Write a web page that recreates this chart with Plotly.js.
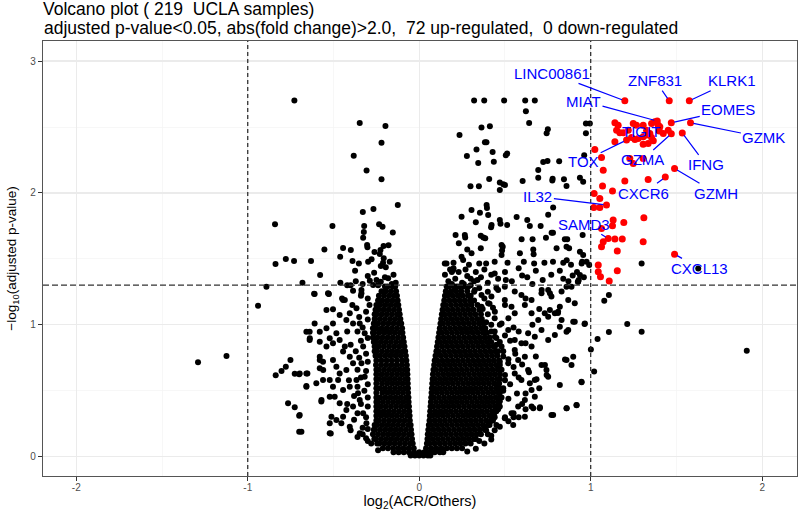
<!DOCTYPE html>
<html><head><meta charset="utf-8">
<script src="https://cdn.plot.ly/plotly-3.0.1.min.js"></script>
<style>html,body{margin:0;padding:0;background:#fff}</style>
</head><body><div id="chart" style="width:800px;height:514px"></div>
<script>
// ---------- data ----------
// dense core of the volcano: one y per row, x values per row
const coreRowY = [0.01,0.035,0.065,0.10,0.135,0.17,0.205,0.24,0.275,0.31,0.345,0.38,0.415,0.45,0.485,0.52,0.555,0.59,0.625,0.66,0.695,0.73,0.765,0.80,0.835,0.87,0.905,0.94,0.975,1.01,1.045,1.08,1.115,1.15,1.185,1.22,1.255,1.29];
const coreRowX = [
[-0.05,-0.025,0,0.025,0.05,0.065],
[-0.15,-0.12,-0.09,-0.06,-0.03,0,0.03,0.06,0.09,0.12,0.14],
[-0.212,-0.182,-0.152,-0.122,-0.092,-0.062,-0.032,0.04,0.07,0.1,0.13,0.16,0.19,0.22,0.25],
[-0.245,-0.233,-0.203,-0.173,-0.143,-0.113,-0.083,-0.053,-0.038,0.045,0.06,0.09,0.12,0.15,0.18,0.21,0.24,0.27,0.3],
[-0.262,-0.252,-0.222,-0.192,-0.162,-0.132,-0.102,-0.072,-0.042,0.048,0.078,0.108,0.138,0.168,0.198,0.228,0.258,0.288,0.318,0.33],
[-0.27,-0.24,-0.21,-0.18,-0.15,-0.12,-0.09,-0.06,-0.045,0.05,0.065,0.095,0.125,0.155,0.185,0.215,0.245,0.275,0.305,0.335,0.36],
[-0.265,-0.258,-0.228,-0.198,-0.168,-0.138,-0.108,-0.078,-0.048,0.053,0.083,0.113,0.143,0.173,0.203,0.233,0.263,0.293,0.323,0.353,0.383],
[-0.26,-0.245,-0.215,-0.185,-0.155,-0.125,-0.095,-0.065,-0.05,0.056,0.071,0.101,0.131,0.161,0.191,0.221,0.251,0.281,0.311,0.341,0.371,0.401,0.41],
[-0.25,-0.235,-0.205,-0.175,-0.145,-0.115,-0.085,-0.055,0.06,0.09,0.12,0.15,0.18,0.21,0.24,0.27,0.3,0.33,0.36,0.39,0.42,0.43],
[-0.25,-0.221,-0.191,-0.161,-0.131,-0.101,-0.071,-0.056,0.062,0.077,0.107,0.137,0.167,0.197,0.227,0.257,0.287,0.317,0.347,0.377,0.407,0.437],
[-0.25,-0.238,-0.208,-0.178,-0.148,-0.118,-0.088,-0.058,0.064,0.094,0.124,0.154,0.184,0.214,0.244,0.274,0.304,0.334,0.364,0.394,0.424,0.45],
[-0.25,-0.225,-0.195,-0.165,-0.135,-0.105,-0.075,-0.06,0.066,0.081,0.111,0.141,0.171,0.201,0.231,0.261,0.291,0.321,0.351,0.381,0.411,0.441,0.46],
[-0.25,-0.242,-0.212,-0.182,-0.152,-0.122,-0.092,-0.062,0.068,0.098,0.128,0.158,0.188,0.218,0.248,0.278,0.308,0.338,0.368,0.398,0.428,0.458,0.465],
[-0.25,-0.228,-0.198,-0.168,-0.138,-0.108,-0.078,-0.063,0.07,0.085,0.115,0.145,0.175,0.205,0.235,0.265,0.295,0.325,0.355,0.385,0.415,0.445,0.47],
[-0.25,-0.215,-0.185,-0.155,-0.125,-0.095,-0.065,0.072,0.102,0.132,0.162,0.192,0.222,0.252,0.282,0.312,0.342,0.372,0.402,0.432,0.462,0.47],
[-0.25,-0.231,-0.201,-0.171,-0.141,-0.111,-0.081,-0.066,0.074,0.089,0.119,0.149,0.179,0.209,0.239,0.269,0.299,0.329,0.359,0.389,0.419,0.449,0.47],
[-0.25,-0.217,-0.187,-0.157,-0.127,-0.097,-0.067,0.076,0.106,0.136,0.166,0.196,0.226,0.256,0.286,0.316,0.346,0.376,0.406,0.436,0.466],
[-0.25,-0.233,-0.203,-0.173,-0.143,-0.113,-0.083,-0.068,0.078,0.093,0.123,0.153,0.183,0.213,0.243,0.273,0.303,0.333,0.363,0.393,0.423,0.453,0.47],
[-0.25,-0.219,-0.189,-0.159,-0.129,-0.099,-0.069,0.08,0.11,0.14,0.17,0.2,0.23,0.26,0.29,0.32,0.35,0.38,0.41,0.44,0.47],
[-0.25,-0.235,-0.205,-0.175,-0.145,-0.115,-0.085,-0.07,0.083,0.098,0.128,0.158,0.188,0.218,0.248,0.278,0.308,0.338,0.368,0.398,0.428,0.458,0.47],
[-0.252,-0.222,-0.192,-0.162,-0.132,-0.102,-0.072,0.087,0.117,0.147,0.177,0.207,0.237,0.267,0.297,0.327,0.357,0.387,0.417,0.447,0.47],
[-0.25,-0.22,-0.19,-0.16,-0.13,-0.1,-0.075,0.09,0.105,0.135,0.165,0.195,0.225,0.255,0.285,0.315,0.345,0.375,0.405,0.435,0.465],
[-0.255,-0.228,-0.198,-0.168,-0.138,-0.108,-0.078,0.095,0.125,0.155,0.185,0.215,0.245,0.275,0.305,0.335,0.365,0.395,0.425,0.455],
[-0.26,-0.247,-0.217,-0.187,-0.157,-0.127,-0.097,-0.082,0.1,0.115,0.145,0.175,0.205,0.235,0.265,0.295,0.325,0.355,0.385,0.415,0.445],
[-0.26,-0.236,-0.206,-0.176,-0.146,-0.116,-0.086,0.104,0.134,0.164,0.194,0.224,0.254,0.284,0.314,0.344,0.374,0.404,0.434,0.44],
[-0.265,-0.255,-0.225,-0.195,-0.165,-0.135,-0.105,-0.09,0.108,0.123,0.153,0.183,0.213,0.243,0.273,0.303,0.333,0.363,0.393,0.42],
[-0.27,-0.244,-0.214,-0.184,-0.154,-0.124,-0.094,0.112,0.142,0.172,0.202,0.232,0.262,0.292,0.322,0.352,0.382,0.41],
[-0.27,-0.263,-0.233,-0.203,-0.173,-0.143,-0.113,-0.098,0.116,0.131,0.161,0.191,0.221,0.251,0.281,0.311,0.341,0.371,0.395],
[-0.27,-0.25,-0.22,-0.19,-0.16,-0.13,-0.1,0.12,0.15,0.18,0.21,0.24,0.27,0.3,0.33,0.36,0.385],
[-0.265,-0.24,-0.21,-0.18,-0.15,-0.12,-0.105,0.124,0.139,0.169,0.199,0.229,0.259,0.289,0.319,0.349,0.375],
[-0.26,-0.23,-0.2,-0.17,-0.14,-0.11,0.128,0.158,0.188,0.218,0.248,0.278,0.308,0.338,0.365],
[-0.26,-0.249,-0.219,-0.189,-0.159,-0.129,-0.114,0.132,0.147,0.177,0.207,0.237,0.267,0.297,0.327,0.36],
[-0.255,-0.238,-0.208,-0.178,-0.148,-0.118,0.136,0.166,0.196,0.226,0.256,0.286,0.316,0.35],
[-0.25,-0.227,-0.197,-0.167,-0.137,-0.122,0.14,0.155,0.185,0.215,0.245,0.275,0.305,0.34],
[-0.24,-0.216,-0.186,-0.156,-0.126,0.146,0.176,0.206,0.236,0.266,0.296,0.32],
[-0.235,-0.205,-0.175,-0.145,-0.13,0.15,0.165,0.195,0.225,0.255,0.285,0.3],
[-0.22,-0.195,-0.165,-0.135,0.155,0.185,0.215,0.245,0.28],
[-0.2,-0.185,-0.155,-0.14,0.16,0.175,0.205,0.235,0.26]
];
// scattered non-significant genes [log2FC, -log10 adj p]
const otherPts = [
[-1.29,0.716],[-1.124,0.763],[-0.94,1.145],[-0.891,1.289],[-0.837,0.617],[-0.803,0.65],[-0.778,0.682],[-0.751,0.733],[-0.726,0.63],[-0.70,0.625],[-0.765,0.405],[-0.726,0.375],[-0.70,0.311],[-0.70,0.19],[-0.652,0.632],[-0.658,0.536],
[1.297,1.466],[1.627,1.428],[1.106,1.226],[1.079,1.183],[0.964,1.006],[1.213,1.006],[1.106,0.945],[1.297,0.948],[1.04,0.892],[1.001,0.814],[1.02,0.647],[0.947,0.564],[1.91,0.804],[0.956,1.53],[0.976,1.478],[0.947,1.466],[0.991,1.453],[0.937,1.378],
[-0.728,2.70],[-0.347,2.53],[-0.197,2.507],[-0.22,2.38],[-0.382,2.282],[-0.307,2.171],[-0.22,2.103],[-0.125,1.908],[-0.267,1.878],[-0.329,1.855],[-0.506,1.749],[-0.321,1.749],[-0.234,1.762],[-0.214,1.744],[-0.323,1.704],[-0.154,1.701],[-0.327,1.66],[-0.304,1.605],[-0.302,1.588],[-0.553,1.572],[-0.444,1.582],[-0.399,1.567],[-0.208,1.597],[-0.179,1.603],[-0.261,1.552],[-0.226,1.567],[-0.23,1.537],[-0.778,1.499],[-0.73,1.484],[-0.631,1.484],[-0.461,1.516],[-0.389,1.484],[-0.352,1.466],[-0.298,1.478],[-0.278,1.497],[-0.207,1.504],[-0.211,1.471],[-0.172,1.478],[-0.224,1.446],[-0.195,1.436],[-0.374,1.41],[-0.263,1.395],[-0.578,1.378],[-0.288,1.334],[-0.249,1.34],[-0.224,1.327],[-0.181,1.353],[-0.137,1.319],[-0.681,1.319],[-0.269,1.302],[-0.24,1.30],
[-0.841,1.762],[-0.838,1.461],[-0.613,1.236],[-0.529,1.236],
[0.32,2.70],[0.379,2.70],[0.495,2.70],[0.618,2.70],[0.674,2.70],[0.622,2.619],[0.641,2.53],[0.363,2.497],[0.412,2.505],[0.235,2.439],[0.75,2.482],[0.743,2.452],[0.972,2.527],[0.995,2.527],[0.972,2.452],[0.383,2.384],[0.392,2.384],[0.334,2.33],[0.428,2.31],[0.513,2.30],[0.505,2.285],[0.278,2.28],[0.344,2.227],[0.435,2.237],[0.723,2.234],[0.748,2.242],[0.816,2.24],[0.962,2.285],[0.694,2.174],[0.408,2.105],[0.299,2.05],[0.348,2.05],[0.47,2.08],[0.49,2.065],[0.50,2.06],[0.47,2.022],[0.603,2.09],[0.694,2.115],[0.778,2.108],[0.776,2.095],[0.844,2.103],[0.859,2.052],[0.937,2.115],[0.956,2.085],
[0.393,1.908],[0.395,1.885],[0.402,1.833],[0.305,1.871],[0.354,1.85],[0.247,1.82],[0.33,1.777],[0.422,1.757],[0.419,1.74],[0.47,1.795],[0.474,1.766],[0.513,1.757],[0.568,1.817],[0.63,1.795],[0.645,1.749],[0.708,1.749],[0.752,1.835],[0.781,1.89],[0.772,1.698],[0.78,1.698],[0.953,1.681],[0.212,1.681],[0.266,1.681],[0.268,1.663],[0.359,1.676],[0.374,1.663],[0.385,1.656],[0.231,1.618],[0.28,1.572],[0.359,1.58],[0.48,1.605],[0.487,1.593],[0.483,1.563],[0.597,1.648],[0.661,1.648],[0.665,1.572],[0.739,1.66],[0.849,1.648],[0.863,1.648],[0.801,1.58],[0.859,1.592],[0.874,1.58],[0.937,1.554],[0.587,1.542],[0.667,1.535],[0.48,1.529],
[0.159,1.466],[0.20,1.47],[0.20,1.43],[0.19,1.40],[0.256,1.491],[0.29,1.455],[0.35,1.466],[0.39,1.466],[0.44,1.478],[0.515,1.47],[0.61,1.478],[0.67,1.466],[0.73,1.47],[0.78,1.478],[0.84,1.47],[0.86,1.49],[0.885,1.455],[0.95,1.478],[0.44,1.39],[0.505,1.34],[0.60,1.375],[0.68,1.41],[0.82,1.41],[0.84,1.35],[0.895,1.375],[0.93,1.34],[0.30,1.35],[0.34,1.34],
[0.149,1.466],[0.247,1.516],[0.305,1.542],[0.198,1.415],
[0.17,1.33],[0.21,1.35],[0.25,1.32],[0.28,1.37],[0.32,1.33],[0.36,1.36],[0.40,1.32],[0.23,1.40],[0.27,1.42],[0.33,1.40],[0.15,1.38],[0.18,1.42],[0.38,1.42],[0.42,1.38],[0.46,1.35],[0.50,1.40],[0.54,1.33],[0.58,1.43],[0.63,1.36],[0.66,1.31],[0.72,1.34],[0.77,1.38],[0.87,1.33],[0.92,1.40],[0.96,1.36],
[-0.16,1.31],[-0.20,1.36],[-0.15,1.38],[-0.30,1.37],[-0.33,1.31],[-0.37,1.33],[-0.42,1.30],[-0.46,1.32],
[-0.61,1.234],[-0.532,1.239],[-0.386,1.259],[-0.337,1.264],[-0.337,1.239],[-0.444,1.188],[-0.541,1.113],[-0.503,1.118],[-0.464,1.075],[-0.405,1.087],[-0.366,1.125],[-0.425,1.037],[-0.386,1.011],[-0.61,1.011],[-0.658,0.948],[-0.639,0.948],[-0.58,0.948],[-0.541,0.974],[-0.503,1.011],[-0.483,0.936],[-0.639,0.885],[-0.58,0.872],[-0.522,0.898],[-0.503,0.86],[-0.464,0.885],[-0.434,0.835],[-0.541,0.835],[-0.58,0.759],[-0.561,0.721],[-0.503,0.733],[-0.483,0.683],[-0.444,0.797],[-0.405,0.759],[-0.386,0.708],[-0.425,0.658],[-0.464,0.632],[-0.58,0.67],[-0.561,0.582],[-0.60,0.557],[-0.658,0.531],[-0.522,0.582],[-0.503,0.531],[-0.473,0.582],[-0.444,0.506],[-0.405,0.531],[-0.366,0.582],[-0.697,0.632],[-0.658,0.632],[-0.522,0.455],[-0.571,0.418],[-0.493,0.455],[-0.464,0.405],[-0.425,0.354],[-0.386,0.38],[-0.347,0.43],[-0.444,0.304],[-0.483,0.279],[-0.512,0.304],[-0.522,0.178],[-0.454,0.253],[-0.405,0.228],[-0.347,0.178],[-0.308,0.253],[-0.697,0.316],[-0.687,0.19],[-0.327,0.329],[-0.357,0.481],[-0.318,0.607],[-0.337,0.708],[-0.327,0.835],[-0.318,0.936],[-0.347,1.011],
[-0.30,1.20],[-0.29,1.15],[-0.31,1.10],[-0.35,1.06],[-0.30,1.04],[-0.33,0.98],[-0.36,0.95],[-0.30,0.90],[-0.34,0.88],[-0.37,0.80],[-0.31,0.78],[-0.35,0.75],[-0.30,0.72],[-0.36,0.66],[-0.31,0.65],[-0.34,0.60],[-0.30,0.55],[-0.36,0.53],[-0.32,0.50],[-0.38,0.46],[-0.30,0.45],[-0.34,0.40],[-0.30,0.38],[-0.36,0.33],[-0.31,0.30],[-0.38,0.28],[-0.33,0.22],[-0.40,0.20],[-0.36,0.15],[-0.30,0.12],[-0.42,0.40],[-0.41,0.58],[-0.40,0.85],[-0.42,0.95],[-0.39,1.15],[-0.45,1.20],[-0.40,1.30],[-0.34,1.22],
[0.178,1.239],[0.207,1.264],[0.246,1.226],[0.285,1.289],[0.324,1.264],[0.363,1.226],[0.421,1.214],[0.46,1.264],[0.499,1.289],[0.557,1.252],[0.596,1.226],[0.655,1.188],[0.713,1.239],[0.752,1.264],[0.771,1.214],[0.83,1.252],[0.888,1.289],[0.927,1.327],[0.869,1.188],[0.907,1.163],
[0.363,1.138],[0.402,1.163],[0.441,1.10],[0.499,1.188],[0.538,1.138],[0.557,1.087],[0.616,1.15],[0.655,1.087],[0.694,1.037],[0.732,1.087],[0.752,1.062],[0.791,1.087],[0.81,1.10],[0.83,1.037],[0.869,0.961],[0.907,1.024],[0.966,1.011],[0.713,0.961],[0.674,0.91],[0.635,0.936],[0.596,0.86],[0.557,0.885],[0.519,0.961],[0.48,1.011],[0.441,0.91],[0.752,0.885],[0.791,0.923],[0.655,0.835],[0.557,0.809],[0.577,0.733],[0.616,0.759],[0.48,0.835],
[0.46,0.683],[0.519,0.708],[0.557,0.632],[0.596,0.582],[0.635,0.658],[0.655,0.506],[0.674,0.455],[0.616,0.43],[0.577,0.38],[0.538,0.329],[0.655,0.38],[0.703,0.367],[0.713,0.696],[0.742,0.658],[0.752,0.607],[0.859,0.733],[0.888,0.696],[0.82,0.544],[0.946,0.569],[0.771,0.316],[0.859,0.367],[0.917,0.392],[0.548,0.241],[0.47,0.228],[0.499,0.291],[0.421,0.279],[0.674,0.582],[0.645,0.557],
[0.50,1.15],[0.52,1.05],[0.47,1.00],[0.55,0.98],[0.50,0.92],[0.58,0.95],[0.53,0.88],[0.49,0.80],[0.56,0.78],[0.52,0.74],[0.60,0.70],[0.55,0.68],[0.50,0.62],[0.58,0.60],[0.53,0.55],[0.49,0.50],[0.57,0.48],[0.52,0.44],[0.60,0.40],[0.47,0.38],[0.55,0.33],[0.50,0.30],[0.45,0.24],[0.62,0.86],[0.66,1.00],[0.70,1.12],[0.62,1.20],[0.45,1.28],[0.40,1.25],[0.68,0.76],[0.64,0.64],[0.70,0.52],[0.62,0.48],[0.58,0.30],[0.62,0.36],[0.44,1.05],[0.42,0.95],[0.45,0.85],[0.47,0.72],[0.46,0.55],[0.43,0.32],[0.39,0.20],[0.42,0.16],[0.35,0.12],
[0.38,1.20],[0.41,1.16],[0.37,1.12],[0.40,1.08],[0.43,1.13],[0.39,1.02],[0.42,1.00],[0.44,0.95],[0.45,0.90],[0.47,0.87],[0.46,0.80],[0.49,0.76],[0.48,0.66],[0.50,0.58],[0.49,0.52],[0.48,0.45],[0.47,0.42],[0.46,0.36],[0.44,0.30],[0.41,0.26],[0.38,0.23],[0.32,1.25],[0.35,1.28],[0.30,1.30],[0.26,1.31],[0.22,1.29],[0.19,1.31],
[0.898,0.758],[0.85,0.738],[0.918,0.39],[0.86,0.367],[0.781,0.316],[0.704,0.375],[0.665,0.367],[0.616,0.303],[0.733,0.695],[0.743,0.62],[0.684,0.587],[0.809,1.089],[0.82,1.137],[0.762,1.112],[0.898,1.024],[0.859,0.948],[0.82,0.986],[0.714,1.264],[0.762,1.239],[0.859,1.289],[0.925,1.327],
[-0.638,0.898],[-0.527,1.234],[-0.522,0.253],[-0.516,0.177],[-0.57,0.43],[-0.56,0.657],[-0.58,0.733],[-0.434,1.188],
[0.38,0.10],[0.42,0.13],[0.33,0.06],[0.28,0.04],[0.40,0.17],[0.44,0.20],[0.52,0.27],[0.55,0.30],[-0.28,0.10],[-0.24,0.05],[-0.31,0.14],[-0.30,0.21],[-0.33,0.17]
];
// labelled up-regulated genes
const labelGenes = ['LINC00861','ZNF831','KLRK1','MIAT','EOMES','GZMK','TIGIT','TOX','GZMA','IFNG','CXCR6','GZMH','IL32','SAMD3','CXCL13'];
const labelGeneXY = [[1.199,2.699],[1.458,2.699],[1.575,2.699],[1.388,2.545],[1.47,2.532],[1.582,2.532],[1.326,2.439],[1.209,2.401],[1.47,2.449],[1.534,2.454],[1.435,2.12],[1.489,2.186],[1.092,1.908],[1.102,1.655],[1.489,1.536]];
// other up-regulated genes (red, unlabelled)
const upPts = [
[1.141,2.532],[1.16,2.514],[1.248,2.527],[1.267,2.514],[1.306,2.514],[1.355,2.527],[1.374,2.54],[1.394,2.514],[1.403,2.502],[1.452,2.476],[1.151,2.476],[1.17,2.456],[1.141,2.388],[1.238,2.421],[1.258,2.406],[1.277,2.413],[1.306,2.426],[1.345,2.451],[1.355,2.421],[1.365,2.396],[1.335,2.375],[1.306,2.37],[1.423,2.451],[1.326,2.476],[1.219,2.476],[1.19,2.456],[1.40,2.47],
[1.024,2.33],[1.063,2.269],[1.228,2.262],[1.248,2.224],[1.306,2.262],[1.073,2.173],[1.199,2.09],[1.335,2.102],[1.069,2.052],[1.127,2.014],[1.02,1.996],[1.053,1.958],[1.018,1.89],[1.053,1.89],[1.31,1.812],[1.193,1.776],[1.131,1.794],[1.127,1.751],[1.063,1.731],[1.073,1.63],[1.063,1.592],[1.141,1.65],[1.184,1.65],[1.306,1.63],[1.155,1.559],[1.044,1.453],[1.044,1.402],[1.155,1.41],[1.108,1.332],[1.057,1.365]
];
const xTickVals = [-2,-1,0,1,2];
const xTickText = ['-2','-1','0','1','2'];
const yTickVals = [0,1,2,3];
const yTickText = ['0','1','2','3'];
const titleLine1 = 'Volcano plot ( 219 \u00a0UCLA samples)';
const titleLine2 = 'adjusted p-value&lt;0.05, abs(fold change)&gt;2.0, \u00a072 up-regulated, \u00a00 down-regulated';

// ---------- build ----------
const blackX = [], blackY = [];
coreRowY.forEach((y,i) => coreRowX[i].forEach(x => { blackX.push(x); blackY.push(y); }));
otherPts.forEach(p => { blackX.push(p[0]); blackY.push(p[1]); });
const redX = upPts.map(p=>p[0]).concat(labelGeneXY.map(p=>p[0]));
const redY = upPts.map(p=>p[1]).concat(labelGeneXY.map(p=>p[1]));

// label text positions (layout of the repelled labels)
const labelPos = [[0.774,2.907],[1.376,2.851],[1.824,2.851],[0.958,2.697],[1.802,2.629],[2.01,2.419],[1.292,2.464],[0.959,2.242],[1.30,2.25],[1.673,2.212],[1.309,1.997],[1.732,1.997],[0.692,1.971],[0.963,1.762],[1.635,1.428]];

const FONT = '"Liberation Sans", Arial, Helvetica, sans-serif';
const annotations = labelGenes.map((g,i) => {
  const a = {
    text: g, x: labelGeneXY[i][0], y: labelGeneXY[i][1], xref:'x', yref:'y',
    font: {family: FONT, size: 15, color: '#0000ff'}
  };
  if (g === 'TIGIT') {
    a.x = labelPos[i][0]; a.y = labelPos[i][1]; a.showarrow = false;
  } else {
    Object.assign(a, {showarrow: true, arrowhead: 0, arrowwidth: 1.2, arrowcolor: '#0000ff',
      axref: 'x', ayref: 'y', ax: labelPos[i][0], ay: labelPos[i][1], standoff: 3});
  }
  return a;
});
// second line of the title
annotations.push({text: titleLine2, xref:'paper', yref:'paper', x: 0, y: 1.031,
  xanchor:'left', yanchor:'middle', showarrow:false, xshift:-1,
  font:{family: FONT, size: 17.5, color:'#000'}});

const traces = [
  {type:'scatter', mode:'markers', x: blackX, y: blackY, hoverinfo:'skip',
   marker:{color:'#000000', size:6, line:{width:0}}},
  {type:'scatter', mode:'markers', x: redX, y: redY, hoverinfo:'skip',
   marker:{color:'#ff0000', size:7, line:{width:0}}}
];

const dash = {color:'#222222', width:1.2, dash:'4px,3px'};
const layout = {
  width: 800, height: 514,
  margin: {l:43, r:3, t:41, b:38},
  paper_bgcolor:'#ffffff', plot_bgcolor:'#ffffff',
  showlegend: false,
  font: {family: FONT, color:'#000'},
  title: {
    text: titleLine1,
    font: {family: FONT, size: 17.5, color:'#000'},
    x: 0, xref: 'paper', xanchor: 'left',
    y: 1 - 8.5/514, yref: 'container', yanchor: 'middle'
  },
  xaxis: {
    range: [-2.194, 2.203], tickmode:'array', tickvals: xTickVals, ticktext: xTickText,
    ticks:'outside', ticklen:4, tickwidth:1, tickcolor:'#333', ticklabelstandoff:-2,
    tickfont:{family: FONT, size:10, color:'#4d4d4d'},
    showgrid:true, gridcolor:'#ebebeb', gridwidth:1.2,
    minor:{tickvals:[-1.5,-0.5,0.5,1.5], showgrid:true, gridcolor:'#f3f3f3', gridwidth:0.7, ticks:''},
    zeroline:false, showline:true, mirror:true, linecolor:'#555', linewidth:1.2,
    title:{text:'log<sub>2</sub>(ACR/Others)', font:{family: FONT, size:14.5, color:'#000'}, standoff:0},
    automargin:false
  },
  yaxis: {
    range: [-0.146, 3.152], tickmode:'array', tickvals: yTickVals, ticktext: yTickText,
    ticks:'outside', ticklen:4, tickwidth:1, tickcolor:'#333',
    tickfont:{family: FONT, size:10, color:'#4d4d4d'},
    showgrid:true, gridcolor:'#ebebeb', gridwidth:1.2,
    minor:{tickvals:[0.5,1.5,2.5], showgrid:true, gridcolor:'#f3f3f3', gridwidth:0.7, ticks:''},
    zeroline:false, showline:true, mirror:true, linecolor:'#555', linewidth:1.2,
    title:{text:'\u2212log<sub>10</sub>(adjusted p-value)', font:{family: FONT, size:13.5, color:'#000'}, standoff:10},
    automargin:false
  },
  shapes: [
    {type:'line', xref:'x', yref:'paper', x0:-1, x1:-1, y0:0, y1:1, line:dash, layer:'above'},
    {type:'line', xref:'x', yref:'paper', x0:1, x1:1, y0:0, y1:1, line:dash, layer:'above'},
    {type:'line', xref:'paper', yref:'y', x0:0, x1:1, y0:1.30103, y1:1.30103, line:{color:'#333', width:1.2, dash:'6px,3px'}, layer:'above'}
  ],
  annotations: annotations
};

Plotly.newPlot('chart', traces, layout, {displayModeBar:false, staticPlot:true});
</script>
</body></html>
